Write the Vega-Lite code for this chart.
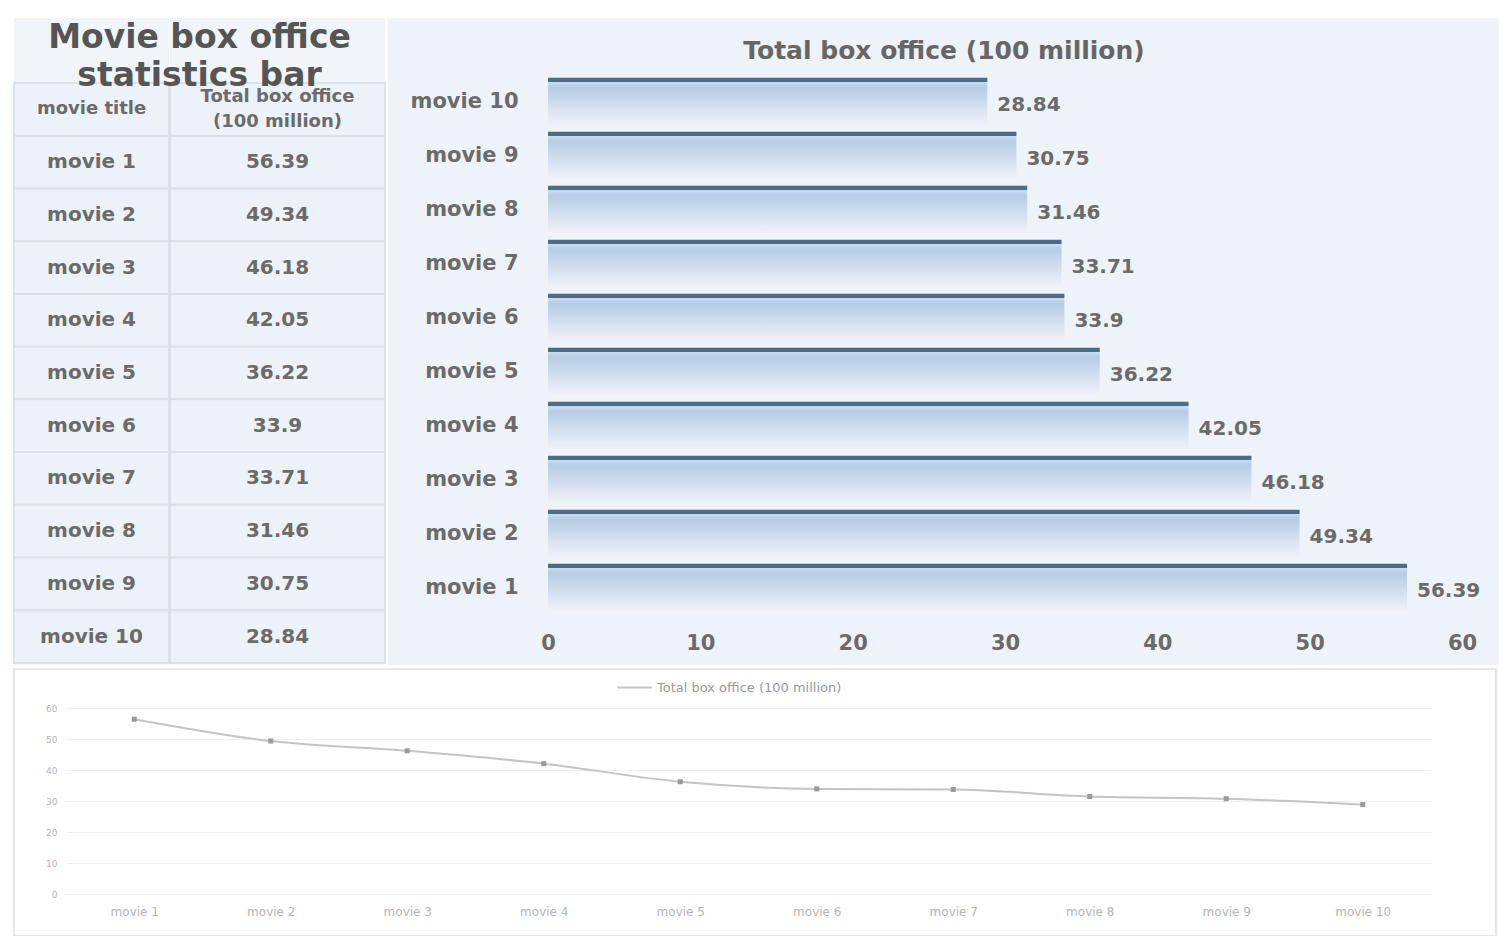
{
  "$schema": "https://vega.github.io/schema/vega-lite/v6.json",
  "background": "#ffffff",
  "padding": {"left": 13, "top": 18, "right": 2, "bottom": 1},
  "config": {"font": "DejaVu Sans", "view": {"stroke": null}},
  "datasets": {
    "movies": [
      {"movie": "movie 1", "box": 56.39},
      {"movie": "movie 2", "box": 49.34},
      {"movie": "movie 3", "box": 46.18},
      {"movie": "movie 4", "box": 42.05},
      {"movie": "movie 5", "box": 36.22},
      {"movie": "movie 6", "box": 33.9},
      {"movie": "movie 7", "box": 33.71},
      {"movie": "movie 8", "box": 31.46},
      {"movie": "movie 9", "box": 30.75},
      {"movie": "movie 10", "box": 28.84}
    ]
  },
  "spacing": 3,
  "vconcat": [
    {
      "spacing": 2,
      "hconcat": [
        {
          "title": {"text": ["Movie box office", "statistics bar"], "fontSize": 33, "fontWeight": "bold", "color": "#555555", "lineHeight": 38, "baseline": "middle", "offset": 0, "dy": 91, "anchor": "middle"},
          "spacing": -2,
          "hconcat": [
            {
              "width": 155,
              "height": 647,
              "view": {"fill": "#f1f5f9", "stroke": null},
              "layer": [
                {
                  "data": {"name": "movies"},
                  "mark": {"type": "rect", "fill": "#edf2f8", "stroke": "#d9e1ea", "strokeWidth": 2},
                  "encoding": {"y": {"field": "movie", "type": "nominal", "axis": null, "scale": {"domain": ["header", "movie 1", "movie 2", "movie 3", "movie 4", "movie 5", "movie 6", "movie 7", "movie 8", "movie 9", "movie 10"], "range": [65, 645], "paddingInner": 0, "paddingOuter": 0}}}
                },
                {
                  "data": {"name": "movies"},
                  "mark": {"type": "text", "fontWeight": "bold", "fontSize": 20, "color": "#6b6b6b"},
                  "encoding": {"y": {"field": "movie", "type": "nominal"}, "text": {"field": "movie"}}
                },
                {
                  "data": {"values": [{"h": "movie title"}]},
                  "mark": {"type": "rect", "fill": "#edf2f8", "stroke": "#d9e1ea", "strokeWidth": 2},
                  "encoding": {"y": {"datum": "header", "type": "nominal"}}
                },
                {
                  "data": {"values": [{"h": "movie title"}]},
                  "mark": {"type": "text", "fontWeight": "bold", "fontSize": 18, "color": "#6b6b6b"},
                  "encoding": {"y": {"datum": "header", "type": "nominal"}, "text": {"field": "h"}}
                }
              ]
            },
            {
              "width": 215,
              "height": 647,
              "view": {"fill": "#f1f5f9", "stroke": null},
              "layer": [
                {
                  "data": {"name": "movies"},
                  "mark": {"type": "rect", "fill": "#edf2f8", "stroke": "#d9e1ea", "strokeWidth": 2},
                  "encoding": {"y": {"field": "movie", "type": "nominal", "axis": null, "scale": {"domain": ["header", "movie 1", "movie 2", "movie 3", "movie 4", "movie 5", "movie 6", "movie 7", "movie 8", "movie 9", "movie 10"], "range": [65, 645], "paddingInner": 0, "paddingOuter": 0}}}
                },
                {
                  "data": {"name": "movies"},
                  "mark": {"type": "text", "fontWeight": "bold", "fontSize": 20, "color": "#6b6b6b"},
                  "encoding": {"y": {"field": "movie", "type": "nominal"}, "text": {"field": "box"}}
                },
                {
                  "data": {"values": [{"h": "Total box office\n(100 million)"}]},
                  "mark": {"type": "rect", "fill": "#edf2f8", "stroke": "#d9e1ea", "strokeWidth": 2},
                  "encoding": {"y": {"datum": "header", "type": "nominal"}}
                },
                {
                  "data": {"values": [{"h": "Total box office\n(100 million)"}]},
                  "mark": {"type": "text", "fontWeight": "bold", "fontSize": 18, "color": "#6b6b6b", "lineBreak": "\n", "lineHeight": 25, "dy": -12},
                  "encoding": {"y": {"datum": "header", "type": "nominal"}, "text": {"field": "h"}}
                }
              ]
            }
          ]
        },
        {
          "width": 1112,
          "height": 647,
          "view": {"fill": "#eef3f9", "stroke": null},
          "title": {"text": "Total box office (100 million)", "fontSize": 25, "fontWeight": "bold", "color": "#666666", "baseline": "middle", "offset": 0, "dy": 58},
          "data": {"name": "movies"},
          "encoding": {
            "y": {
              "field": "movie", "type": "nominal",
              "sort": ["movie 10", "movie 9", "movie 8", "movie 7", "movie 6", "movie 5", "movie 4", "movie 3", "movie 2", "movie 1"],
              "scale": {"range": [57, 597], "paddingInner": 0.1, "paddingOuter": 0.05},
              "axis": {"title": null, "domain": false, "ticks": false, "offset": -132, "labelPadding": 2, "labelFontWeight": "bold", "labelFontSize": 21, "labelColor": "#6b6b6b"}
            }
          },
          "layer": [
            {
              "mark": {"type": "bar", "color": {"gradient": "linear", "x1": 0, "y1": 0, "x2": 0, "y2": 1, "stops": [
                {"offset": 0, "color": "#4d6c85"},
                {"offset": 0.08, "color": "#4d6c85"},
                {"offset": 0.09, "color": "#c9dcee"},
                {"offset": 0.2, "color": "#b6cde6"},
                {"offset": 1, "color": "#f3f3f9"}
              ]}},
              "encoding": {
                "x": {
                  "field": "box", "type": "quantitative",
                  "scale": {"domain": [0, 60], "range": [160, 1074], "nice": false, "zero": true},
                  "axis": {"title": null, "domain": false, "ticks": false, "grid": false, "values": [0, 10, 20, 30, 40, 50, 60], "offset": -35, "labelPadding": 2, "labelFlush": false, "labelFontWeight": "bold", "labelFontSize": 21, "labelColor": "#6b6b6b"}
                }
              }
            },
            {
              "mark": {"type": "text", "align": "left", "baseline": "middle", "dx": 10, "dy": 3, "fontWeight": "bold", "fontSize": 20, "color": "#6b6b6b"},
              "encoding": {
                "x": {"field": "box", "type": "quantitative"},
                "text": {"field": "box"}
              }
            }
          ]
        }
      ]
    },
    {
      "width": 1482,
      "height": 267,
      "view": {"fill": "#ffffff", "stroke": "#e4e8ec", "strokeWidth": 2},
      "data": {"name": "movies"},
      "encoding": {
        "x": {
          "field": "movie", "type": "ordinal",
          "sort": ["movie 1", "movie 2", "movie 3", "movie 4", "movie 5", "movie 6", "movie 7", "movie 8", "movie 9", "movie 10"],
          "scale": {"type": "point", "range": [52, 1417], "padding": 0.5},
          "axis": {"title": null, "domain": false, "ticks": false, "offset": -32, "labelPadding": 2, "labelAngle": 0, "labelFontSize": 12, "labelColor": "#b5b5b5"}
        },
        "y": {
          "field": "box", "type": "quantitative",
          "scale": {"domain": [0, 60], "range": [225, 39], "nice": false},
          "axis": {"title": null, "domain": false, "ticks": false, "values": [0, 10, 20, 30, 40, 50, 60], "offset": -45, "labelPadding": 2, "labelFontSize": 9, "labelColor": "#b5b5b5", "grid": true, "gridColor": "#efefef"}
        }
      },
      "layer": [
        {
          "mark": {"type": "line", "interpolate": "monotone", "strokeWidth": 2},
          "encoding": {
            "color": {
              "datum": "Total box office (100 million)",
              "scale": {"range": ["#c4c4c4"]},
              "legend": {"orient": "none", "legendX": 602, "legendY": 651, "title": null, "symbolType": "stroke", "symbolStrokeWidth": 2, "symbolSize": 1200, "labelFontSize": 13, "labelLimit": 400, "labelColor": "#999999"}
            }
          }
        },
        {
          "mark": {"type": "point", "shape": "square", "filled": true, "size": 25, "color": "#9a9a9a", "opacity": 1}
        }
      ]
    }
  ]
}
